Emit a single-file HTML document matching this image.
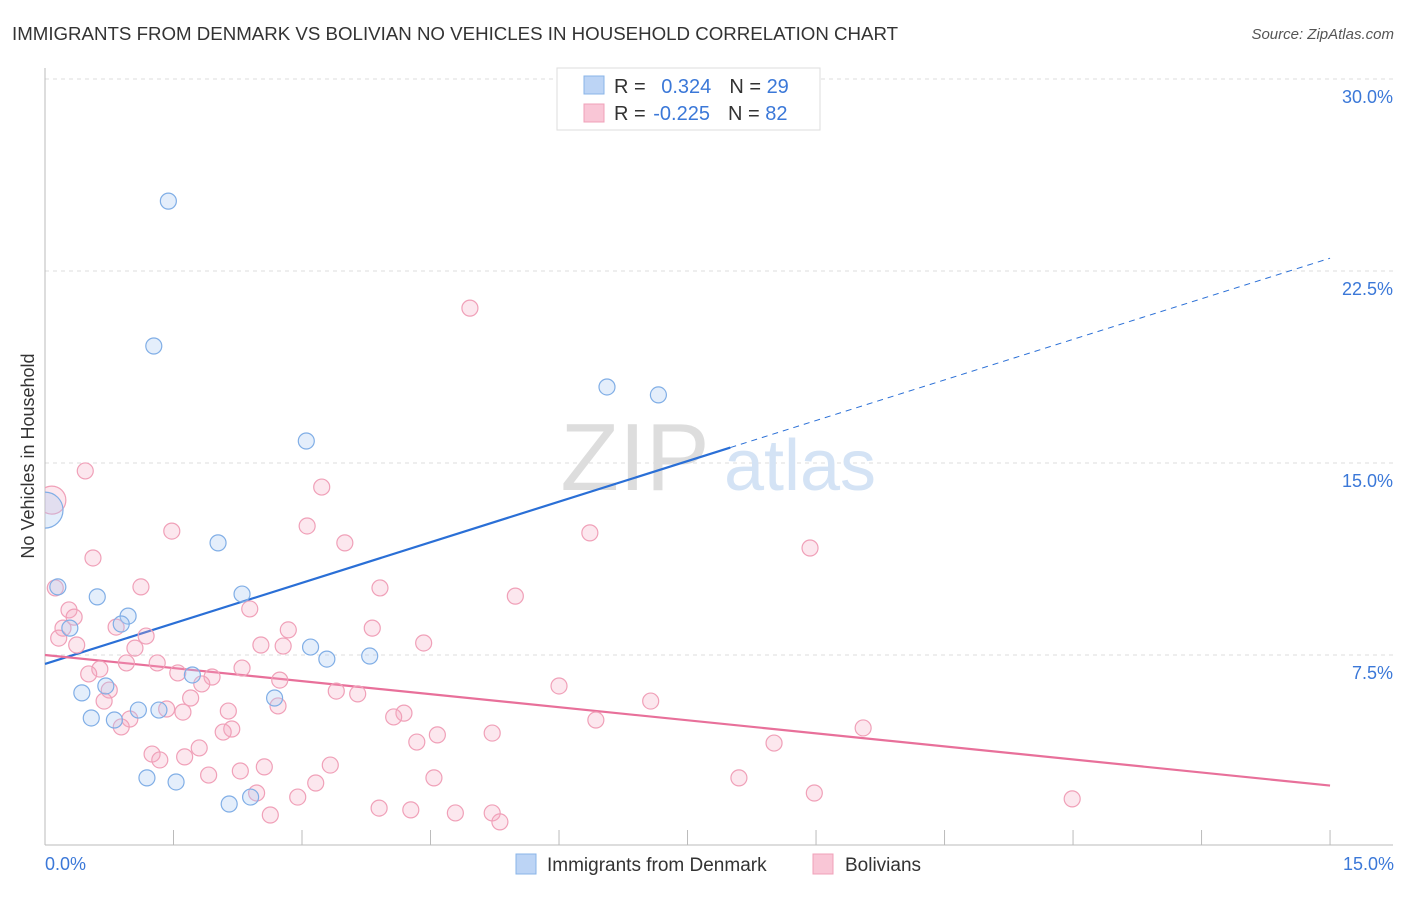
<!DOCTYPE html>
<html><head><meta charset="utf-8"><style>
body{margin:0;background:#fff;font-family:"Liberation Sans",sans-serif;}
svg text{font-family:"Liberation Sans",sans-serif;}
</style></head><body>
<svg id="chart" width="1406" height="892" viewBox="0 0 1406 892">
<defs><clipPath id="plotclip"><rect x="45" y="60" width="1360" height="785"/></clipPath></defs>
<text x="12" y="40" font-size="18.7" fill="#333">IMMIGRANTS FROM DENMARK VS BOLIVIAN NO VEHICLES IN HOUSEHOLD CORRELATION CHART</text>
<text x="1394" y="39" font-size="15" fill="#555" text-anchor="end" font-style="italic">Source: ZipAtlas.com</text>
<g id="grid"></g>
<g id="watermark">
<text x="635" y="490" font-size="96" fill="#ddd" font-family="Liberation Serif" text-anchor="middle">ZIP</text>
<text x="800" y="490" font-size="72" fill="#d4e3f5" text-anchor="middle">atlas</text>
</g>
<line x1="45" y1="68" x2="45" y2="845" stroke="#bbb"/>
<line x1="45" y1="845" x2="1393" y2="845" stroke="#bbb"/>
<g id="xticks"></g>
<g id="ylabels"></g>
<text x="45" y="870" font-size="18" fill="#3b78d8">0.0%</text>
<text x="1394" y="870" font-size="18" fill="#3b78d8" text-anchor="end">15.0%</text>
<text transform="translate(34,456) rotate(-90)" font-size="18" fill="#333" text-anchor="middle">No Vehicles in Household</text>
<g id="trends"></g>
<g id="pts" clip-path="url(#plotclip)"></g>
<g>
<rect x="557" y="68" width="263" height="62" fill="#fff" stroke="#ddd"/>
<rect x="584" y="76" width="20" height="18" fill="#bcd4f5" stroke="#8ab4e8"/>
<rect x="584" y="104" width="20" height="18" fill="#f9c6d6" stroke="#f0a0b8"/>
<text x="614" y="93" font-size="20" fill="#333">R = <tspan fill="#3b78d8" dx="10">0.324</tspan><tspan dx="18" fill="#333">N = </tspan><tspan fill="#3b78d8">29</tspan></text>
<text x="614" y="120" font-size="20" fill="#333">R = <tspan fill="#3b78d8" dx="2">-0.225</tspan><tspan dx="18" fill="#333">N = </tspan><tspan fill="#3b78d8">82</tspan></text>
</g>
<g>
<rect x="516" y="854" width="20" height="20" fill="#bcd4f5" stroke="#8ab4e8"/>
<text x="547" y="871" font-size="19" fill="#333">Immigrants from Denmark</text>
<rect x="813" y="854" width="20" height="20" fill="#f9c6d6" stroke="#f0a0b8"/>
<text x="845" y="871" font-size="19" fill="#333">Bolivians</text>
</g>
</svg>
<script>
const blueX=[1.44,1.27,6.56,7.16,3.05,2.02,0.15,0.61,2.30,0.97,0.89,0.29,3.10,3.29,3.79,1.72,0.71,0.43,2.68,1.09,1.33,0.54,0.81,1.19,1.53,2.15,2.40,0];
const blueY=[25.23,19.57,17.97,17.66,15.86,11.88,10.16,9.77,9.88,9.02,8.71,8.55,7.81,7.34,7.46,6.72,6.29,6.02,5.82,5.35,5.35,5.04,4.96,2.70,2.54,1.68,1.95,13.16];
const pinkX=[4.96,0.47,3.23,3.06,1.48,6.36,3.50,8.93,0.56,0.08,0.12,1.12,3.91,5.49,0.28,2.39,0.34,0.21,0.83,3.82,2.84,1.18,0.16,4.42,0.37,2.52,2.78,1.05,0.64,0.95,1.31,2.30,1.55,0.51,1.95,2.74,1.83,6.00,0.75,3.40,3.65,1.70,0.69,7.07,2.72,1.42,1.61,2.14,4.19,4.07,0.99,6.43,0.89,2.18,2.08,9.55,4.58,5.22,4.34,1.80,8.51,1.25,1.63,1.34,3.33,2.56,2.28,1.91,4.54,8.10,3.16,2.47,2.95,8.98,11.99,3.90,4.27,4.79,5.22,2.63,5.31];
const pinkY=[21.05,14.69,14.06,12.54,12.34,12.27,11.88,11.68,11.29,13.55,10.12,10.16,10.12,9.80,9.26,9.30,8.98,8.55,8.59,8.55,8.48,8.24,8.16,7.97,7.89,7.89,7.85,7.77,6.95,7.19,7.19,6.99,6.80,6.76,6.64,6.52,6.37,6.29,6.13,6.09,5.98,5.82,5.70,5.70,5.51,5.39,5.27,5.31,5.23,5.08,5.00,4.96,4.69,4.61,4.49,4.65,4.38,4.45,4.10,3.87,4.06,3.63,3.52,3.40,3.20,3.13,2.97,2.81,2.70,2.70,2.50,2.11,1.95,2.11,1.88,1.52,1.45,1.33,1.33,1.25,0.98];
const bigBlue=27, bigPink=9;
const yTicks=[7.5,15,22.5,30];
const yTickLabels=["7.5%","15.0%","22.5%","30.0%"];
const xTicks=[1.5,3,4.5,6,7.5,9,10.5,12,13.5,15];
const blueTrend=[7.15,23.0], pinkTrend=[7.5,2.4], blueSolidEnd=8.0;
const NS="http://www.w3.org/2000/svg";
const sx=v=>45+v*85.67, sy=v=>847-v*25.6;
function mk(tag,attrs,parent){const e=document.createElementNS(NS,tag);for(const k in attrs)e.setAttribute(k,attrs[k]);document.getElementById(parent).appendChild(e);return e;}
yTicks.forEach((t,i)=>{
  const l=mk('line',{x1:45,x2:1393,y1:sy(t),y2:sy(t),stroke:'#ddd','stroke-dasharray':'4,4'},'grid');
  
  
  const tx=mk('text',{x:1393,y:sy(t)+24,'font-size':18,fill:'#3b78d8','text-anchor':'end'},'ylabels');
  tx.textContent=yTickLabels[i];
  
  
});
xTicks.forEach(t=>{
  const l=mk('line',{x1:sx(t),x2:sx(t),y1:830,y2:845,stroke:'#bbb'},'xticks');
  
  
});
const f=(a,x)=>a[0]+(a[1]-a[0])*x/15;
let t1=mk('line',{x1:sx(0),y1:sy(f(blueTrend,0)),x2:sx(blueSolidEnd),y2:sy(f(blueTrend,blueSolidEnd)),stroke:'#2a6fd6','stroke-width':2.2},'trends');


let t2=mk('line',{x1:sx(blueSolidEnd),y1:sy(f(blueTrend,blueSolidEnd)),x2:sx(15),y2:sy(f(blueTrend,15)),stroke:'#2a6fd6','stroke-width':1,'stroke-dasharray':'6,5'},'trends');


let t3=mk('line',{x1:sx(0),y1:sy(f(pinkTrend,0)),x2:sx(15),y2:sy(f(pinkTrend,15)),stroke:'#e8709a','stroke-width':2.2},'trends');


pinkX.forEach((x,i)=>{
  const c=mk('circle',{cx:sx(x),cy:sy(pinkY[i]),r:i===bigPink?14:8,fill:'rgba(245,170,195,0.28)',stroke:'#f0a0b8','stroke-width':1.2},'pts');
  
  
});
blueX.forEach((x,i)=>{
  const c=mk('circle',{cx:sx(x),cy:sy(blueY[i]),r:i===bigBlue?18:8,fill:'rgba(170,202,242,0.32)',stroke:'#80aee6','stroke-width':1.2},'pts');
  
  
});
</script>
</body></html>
